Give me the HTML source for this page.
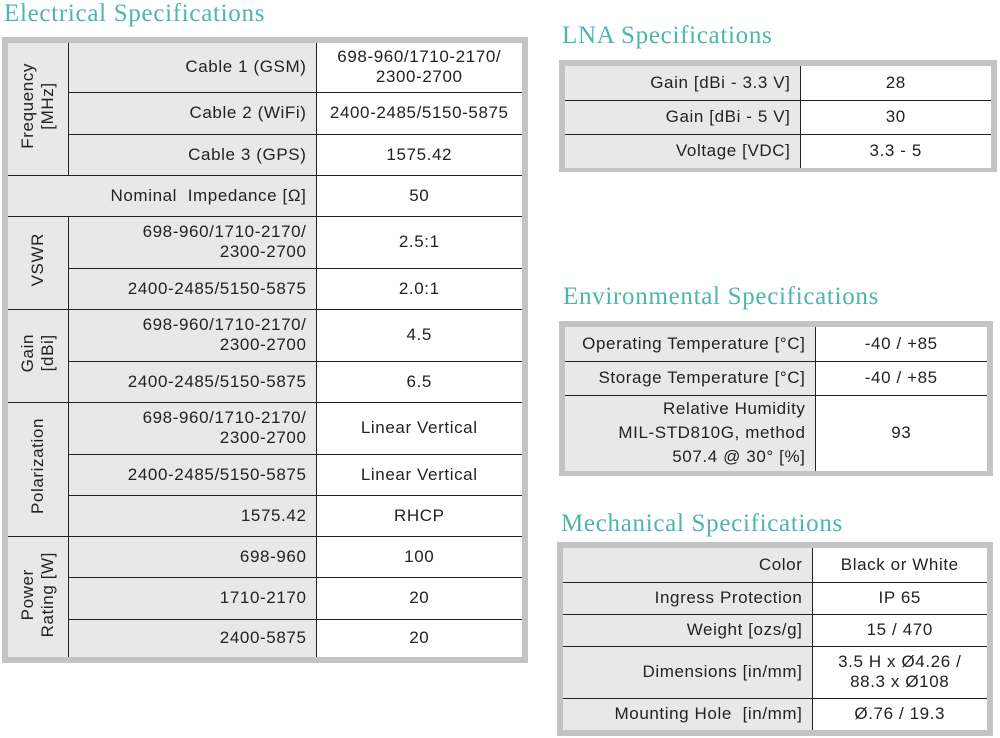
<!DOCTYPE html>
<html><head><meta charset="utf-8"><style>
body{margin:0;width:1000px;height:738px;background:#fff;position:relative;overflow:hidden;font-family:"Liberation Sans",sans-serif;color:#222;}
h2{position:absolute;margin:0;font-family:"Liberation Serif",serif;font-weight:normal;color:#4db5ae;font-size:25px;letter-spacing:0.7px;white-space:nowrap;}
.fr{position:absolute;background:#c3c3c5;}
table{position:absolute;border-collapse:collapse;table-layout:fixed;border-style:hidden;font-size:17px;letter-spacing:0.6px;}
td{border:1px solid #222;padding:0;line-height:20px;}
td.l{background:#e8e8e8;text-align:right;padding-right:9px;}
td.v{background:#fff;text-align:center;}
td.r{background:#e8e8e8;text-align:center;}
.rot{display:inline-block;writing-mode:vertical-rl;transform:rotate(180deg);line-height:20px;text-align:center;}
</style></head><body>
<h2 style="left:4px;top:0px;">Electrical Specifications</h2>
<h2 style="left:562px;top:22px;">LNA Specifications</h2>
<h2 style="left:563px;top:283px;">Environmental Specifications</h2>
<h2 style="left:561px;top:510px;">Mechanical Specifications</h2>

<div class="fr" style="left:2px;top:37px;width:526px;height:626px;"></div>
<table style="left:8px;top:43px;width:514px;">
<colgroup><col style="width:60px"><col style="width:248px"><col style="width:206px"></colgroup>
<tr style="height:49px"><td class="r" rowspan="3"><span class="rot">Frequency<br>[MHz]</span></td><td class="l">Cable 1 (GSM)</td><td class="v">698-960/1710-2170/<br>2300-2700</td></tr>
<tr style="height:42px"><td class="l">Cable 2 (WiFi)</td><td class="v">2400-2485/5150-5875</td></tr>
<tr style="height:41px"><td class="l">Cable 3 (GPS)</td><td class="v">1575.42</td></tr>
<tr style="height:41px"><td class="l" colspan="2">Nominal&nbsp; Impedance [Ω]</td><td class="v">50</td></tr>
<tr style="height:52px"><td class="r" rowspan="2"><span class="rot">VSWR</span></td><td class="l">698-960/1710-2170/<br>2300-2700</td><td class="v">2.5:1</td></tr>
<tr style="height:41px"><td class="l">2400-2485/5150-5875</td><td class="v">2.0:1</td></tr>
<tr style="height:52px"><td class="r" rowspan="2"><span class="rot">Gain<br>[dBi]</span></td><td class="l">698-960/1710-2170/<br>2300-2700</td><td class="v">4.5</td></tr>
<tr style="height:41px"><td class="l">2400-2485/5150-5875</td><td class="v">6.5</td></tr>
<tr style="height:52px"><td class="r" rowspan="3"><span class="rot">Polarization</span></td><td class="l">698-960/1710-2170/<br>2300-2700</td><td class="v">Linear Vertical</td></tr>
<tr style="height:41px"><td class="l">2400-2485/5150-5875</td><td class="v">Linear Vertical</td></tr>
<tr style="height:41px"><td class="l">1575.42</td><td class="v">RHCP</td></tr>
<tr style="height:41px"><td class="r" rowspan="3"><span class="rot">Power<br>Rating [W]</span></td><td class="l">698-960</td><td class="v">100</td></tr>
<tr style="height:42px"><td class="l">1710-2170</td><td class="v">20</td></tr>
<tr style="height:38px"><td class="l">2400-5875</td><td class="v">20</td></tr>
</table>

<div class="fr" style="left:559px;top:60px;width:438px;height:112px;"></div>
<table style="left:565px;top:66px;width:426px;">
<colgroup><col style="width:235px"><col style="width:191px"></colgroup>
<tr style="height:34px"><td class="l">Gain [dBi - 3.3 V]</td><td class="v">28</td></tr>
<tr style="height:34px"><td class="l">Gain [dBi - 5 V]</td><td class="v">30</td></tr>
<tr style="height:34px"><td class="l">Voltage [VDC]</td><td class="v">3.3 - 5</td></tr>
</table>

<div class="fr" style="left:559px;top:321px;width:434px;height:155px;"></div>
<table style="left:565px;top:327px;width:422px;">
<colgroup><col style="width:250px"><col style="width:172px"></colgroup>
<tr style="height:34px"><td class="l">Operating Temperature [°C]</td><td class="v">-40 / +85</td></tr>
<tr style="height:34px"><td class="l">Storage Temperature [°C]</td><td class="v">-40 / +85</td></tr>
<tr style="height:76px"><td class="l" style="line-height:24px">Relative Humidity<br>MIL-STD810G, method<br>507.4 @ 30° [%]</td><td class="v">93</td></tr>
</table>

<div class="fr" style="left:557px;top:542px;width:436px;height:194px;"></div>
<table style="left:563px;top:548px;width:424px;">
<colgroup><col style="width:249px"><col style="width:175px"></colgroup>
<tr style="height:34px"><td class="l">Color</td><td class="v">Black or White</td></tr>
<tr style="height:32px"><td class="l">Ingress Protection</td><td class="v">IP 65</td></tr>
<tr style="height:32px"><td class="l">Weight [ozs/g]</td><td class="v">15 / 470</td></tr>
<tr style="height:52px"><td class="l">Dimensions [in/mm]</td><td class="v">3.5 H x Ø4.26 /<br>88.3 x Ø108</td></tr>
<tr style="height:32px"><td class="l">Mounting Hole&nbsp; [in/mm]</td><td class="v">Ø.76 / 19.3</td></tr>
</table>
</body></html>
